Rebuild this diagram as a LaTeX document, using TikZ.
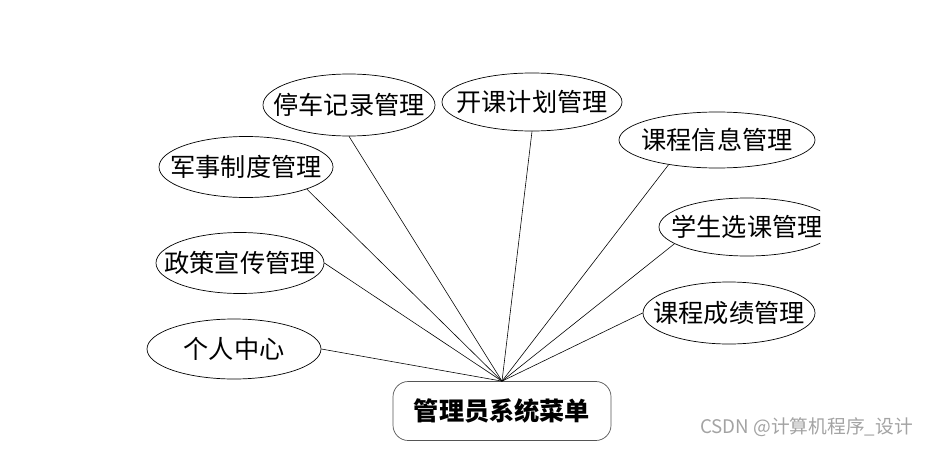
\documentclass[tikz,border=0pt]{standalone}
\usepackage{fontspec}
\setmainfont{Noto Sans CJK SC}
\usetikzlibrary{shapes.geometric}
\definecolor{wm}{HTML}{A3A3A3}
\definecolor{hubline}{HTML}{555555}
\tikzset{
  ell/.style={ellipse, draw=black, line width=0.6pt, inner sep=0pt},
  elltext/.style={font=\fontsize{21.5}{24}\selectfont, inner sep=0pt},
  hubbox/.style={draw=hubline, line width=0.6pt, rounded corners=13pt, minimum width=218*0.03cm, minimum height=59*0.03cm, inner sep=0pt, font=\fontsize{21.5}{24}\selectfont\bfseries},
  link/.style={line width=0.5pt, draw=black}
}
\begin{document}
\begin{tikzpicture}[x=0.03cm,y=-0.03cm]
\useasboundingbox (0,0) rectangle (929,451);
\node[hubbox] (hub) at (502,411) {管理员系统菜单};
\node[ell, minimum width=172*0.03cm, minimum height=62*0.03cm, label={[elltext]center:停车记录管理}] (tc) at (349,105) {};
\node[ell, minimum width=180*0.03cm, minimum height=58*0.03cm, label={[elltext]center:开课计划管理}] (kk) at (532,102) {};
\node[ell, minimum width=174*0.03cm, minimum height=61*0.03cm, label={[elltext]center:军事制度管理}] (js) at (246,167) {};
\node[ell, minimum width=196*0.03cm, minimum height=56*0.03cm, label={[elltext]center:课程信息管理}] (kx) at (717,140) {};
\begin{scope}
\clip (0,0) rectangle (820,451);
\node[ell, minimum width=176*0.03cm, minimum height=58*0.03cm, label={[elltext]center:学生选课管理}] (xs) at (747,227) {};
\end{scope}
\node[ell, minimum width=172*0.03cm, minimum height=62*0.03cm, label={[elltext]center:课程成绩管理}] (cj) at (729,313) {};
\node[ell, minimum width=168*0.03cm, minimum height=61*0.03cm, label={[elltext]center:政策宣传管理}] (zc) at (240,263) {};
\node[ell, minimum width=174*0.03cm, minimum height=60*0.03cm, label={[elltext]center:个人中心}] (gr) at (234,349) {};
\draw[link] (hub.north) -- (tc.south);
\draw[link] (hub.north) -- (kk.south);
\draw[link] (hub.north) -- (js.-20);
\draw[link] (hub.north) -- (kx.-153);
\draw[link] (hub.north) -- (xs.-167);
\draw[link] (hub.north) -- (cj.west);
\draw[link] (hub.north) -- (zc.east);
\draw[link] (hub.north) -- (gr.east);
\node[text=wm, font=\fontsize{16}{18}\selectfont, anchor=east, inner sep=0pt] (wmk) at (913,427) {CSDN @计算机程序\_设计};
\end{tikzpicture}
\end{document}
